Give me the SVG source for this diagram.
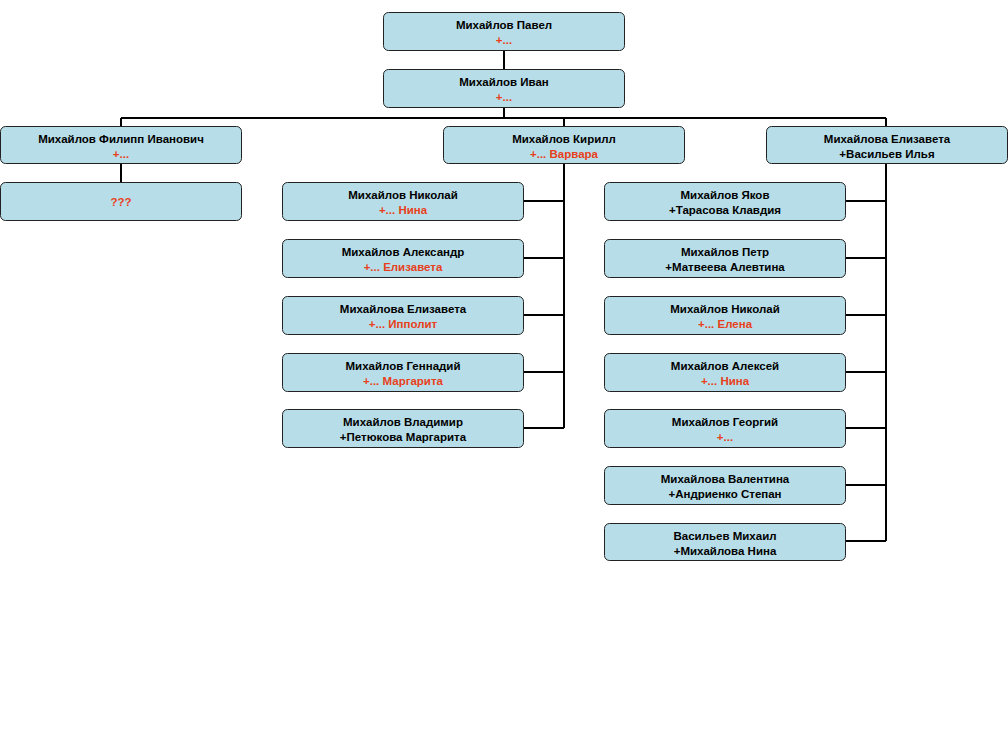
<svg xmlns="http://www.w3.org/2000/svg" width="1008" height="756" viewBox="0 0 1008 756">
<style>
.b{fill:#B7DEE8;stroke:#222;stroke-width:1}
text{font-family:"Liberation Sans",Arial,sans-serif;font-size:11.5px;font-weight:bold;text-anchor:middle;fill:#000}
.r{fill:#E8401C}
.c{stroke:#000;stroke-width:2;fill:none}
</style>
<rect width="1008" height="756" fill="#fff"/>
<g id="connectors">
<path class="c" d="M504 50V69M504 107V118M121 118H886M121 118V126M564 118V126M886 118V126M121 163V182"/>
<path class="c" d="M564 163V428M524 201H564M524 258H564M524 315H564M524 372H564M524 428H564"/>
<path class="c" d="M886 163V541M846 201H886M846 258H886M846 315H886M846 372H886M846 428H886M846 485H886M846 541H886"/>
</g>
<g id="n-pavel"><rect class="b" x="383.5" y="12.5" width="241" height="38" rx="5"/><text x="504" y="29">Михайлов Павел</text><text x="504" y="44" class="r">+...</text></g>
<g id="n-ivan"><rect class="b" x="383.5" y="69.5" width="241" height="38" rx="5"/><text x="504" y="86">Михайлов Иван</text><text x="504" y="101" class="r">+...</text></g>
<g id="n-filipp"><rect class="b" x="0.5" y="126.5" width="241" height="37" rx="5"/><text x="121" y="143">Михайлов Филипп Иванович</text><text x="121" y="158" class="r">+...</text></g>
<g id="n-unknown"><rect class="b" x="0.5" y="182.5" width="241" height="38" rx="5"/><text x="121" y="206" class="r">???</text></g>
<g id="n-kirill"><rect class="b" x="443.5" y="126.5" width="241" height="37" rx="5"/><text x="564" y="143">Михайлов Кирилл</text><text x="564" y="158" class="r">+... Варвара</text></g>
<g id="n-elizaveta"><rect class="b" x="766.5" y="126.5" width="241" height="37" rx="5"/><text x="887" y="143">Михайлова Елизавета</text><text x="887" y="158">+Васильев Илья</text></g>
<g id="n-nikolai1"><rect class="b" x="282.5" y="182.5" width="241" height="38" rx="5"/><text x="403" y="199">Михайлов Николай</text><text x="403" y="214" class="r">+... Нина</text></g>
<g id="n-aleksandr"><rect class="b" x="282.5" y="239.5" width="241" height="38" rx="5"/><text x="403" y="256">Михайлов Александр</text><text x="403" y="271" class="r">+... Елизавета</text></g>
<g id="n-elizaveta2"><rect class="b" x="282.5" y="296.5" width="241" height="38" rx="5"/><text x="403" y="313">Михайлова Елизавета</text><text x="403" y="328" class="r">+... Ипполит</text></g>
<g id="n-gennadii"><rect class="b" x="282.5" y="353.5" width="241" height="38" rx="5"/><text x="403" y="370">Михайлов Геннадий</text><text x="403" y="385" class="r">+... Маргарита</text></g>
<g id="n-vladimir"><rect class="b" x="282.5" y="409.5" width="241" height="38" rx="5"/><text x="403" y="426">Михайлов Владимир</text><text x="403" y="441">+Петюкова Маргарита</text></g>
<g id="n-yakov"><rect class="b" x="604.5" y="182.5" width="241" height="38" rx="5"/><text x="725" y="199">Михайлов Яков</text><text x="725" y="214">+Тарасова Клавдия</text></g>
<g id="n-petr"><rect class="b" x="604.5" y="239.5" width="241" height="38" rx="5"/><text x="725" y="256">Михайлов Петр</text><text x="725" y="271">+Матвеева Алевтина</text></g>
<g id="n-nikolai2"><rect class="b" x="604.5" y="296.5" width="241" height="38" rx="5"/><text x="725" y="313">Михайлов Николай</text><text x="725" y="328" class="r">+... Елена</text></g>
<g id="n-aleksei"><rect class="b" x="604.5" y="353.5" width="241" height="38" rx="5"/><text x="725" y="370">Михайлов Алексей</text><text x="725" y="385" class="r">+... Нина</text></g>
<g id="n-georgii"><rect class="b" x="604.5" y="409.5" width="241" height="38" rx="5"/><text x="725" y="426">Михайлов Георгий</text><text x="725" y="441" class="r">+...</text></g>
<g id="n-valentina"><rect class="b" x="604.5" y="466.5" width="241" height="38" rx="5"/><text x="725" y="483">Михайлова Валентина</text><text x="725" y="498">+Андриенко Степан</text></g>
<g id="n-mikhail"><rect class="b" x="604.5" y="523.5" width="241" height="37" rx="5"/><text x="725" y="540">Васильев Михаил</text><text x="725" y="555">+Михайлова Нина</text></g>
</svg>
